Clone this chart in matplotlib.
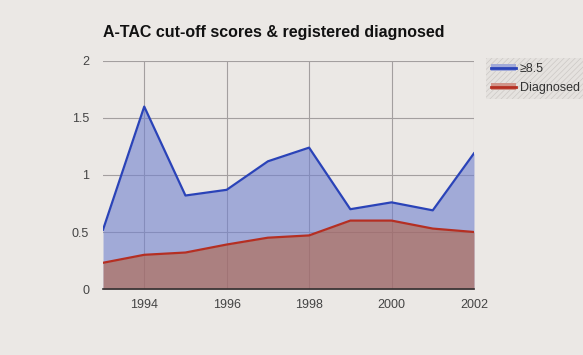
import numpy as np
import matplotlib
matplotlib.use("Agg")
from matplotlib import pyplot as plt
from matplotlib.patches import Patch
from matplotlib.lines import Line2D

years = [1993, 1994, 1995, 1996, 1997, 1998, 1999, 2000, 2001, 2002]
cutoff = [0.52, 1.60, 0.82, 0.87, 1.12, 1.24, 0.70, 0.76, 0.69, 1.19]
diagnosed = [0.23, 0.30, 0.32, 0.39, 0.45, 0.47, 0.60, 0.60, 0.53, 0.50]
xticks = [1994, 1996, 1998, 2000, 2002]
yticks = [0, 0.5, 1, 1.5, 2]
yticklabels = ["0", "0.5", "1", "1.5", "2"]

bg = "#ebe8e5"
plt.rcParams['font.family'] = ['Liberation Sans', 'DejaVu Sans']
plt.rcParams['hatch.linewidth'] = 0.5

fig = plt.figure(figsize=(5.83, 3.55), dpi=100, facecolor=bg)
ax = fig.add_axes([0.1767, 0.1859, 0.813 - 0.1767, 0.8282 - 0.1859])
ax.set_facecolor(bg)

# semi-transparent areas so the grid shows through, like the original
ax.fill_between(years, 0, cutoff, color="#7181cf", alpha=0.6, lw=0, zorder=2)
ax.plot(years, cutoff, color="#2a43b8", lw=1.6, zorder=4)
ax.fill_between(years, 0, diagnosed, color="#b36447", alpha=0.6, lw=0, zorder=3)
ax.plot(years, diagnosed, color="#b52f22", lw=1.6, zorder=4)

ax.set_xlim(1993, 2002)
ax.set_ylim(0, 2)
ax.set_xticks(xticks)
ax.set_yticks(yticks)
ax.set_yticklabels(yticklabels)
ax.grid(color="#a39f9f", lw=0.8, zorder=1)
ax.set_axisbelow(True)
for s in ["top", "right", "left"]:
    ax.spines[s].set_visible(False)
ax.spines["bottom"].set_color("#333030")
ax.spines["bottom"].set_linewidth(1.2)
ax.spines["bottom"].set_zorder(5)
ax.tick_params(length=0, labelsize=9, colors="#444444")
ax.tick_params(axis="x", pad=7)
ax.tick_params(axis="y", pad=10)

fig.text(103 / 583, 1 - 33 / 355, "A-TAC cut-off scores & registered diagnosed",
         fontsize=11.5, fontweight="bold", ha="left", va="center", color="#111111")

h1 = (Patch(facecolor="#a2aad8", lw=0), Line2D([], [], color="#2a43b8", lw=2))
h2 = (Patch(facecolor="#d0958a", lw=0), Line2D([], [], color="#b52f22", lw=2))
leg = fig.legend([h1, h2], ["≥8.5", "Diagnosed"], loc="upper left",
                 bbox_to_anchor=(480 / 583, 1 - 52 / 355), fontsize=9,
                 handlelength=2.0, handleheight=0.5, borderpad=0.4,
                 labelspacing=0.55, handletextpad=0.3, fancybox=False)
frame = leg.get_frame()
frame.set_facecolor("#e4e1de")
frame.set_edgecolor("#c6c2bf")
frame.set_hatch("//////")
frame.set_linewidth(0)
for t in leg.get_texts():
    t.set_color("#333333")

fig.savefig("out.png", dpi=100, facecolor=bg)
